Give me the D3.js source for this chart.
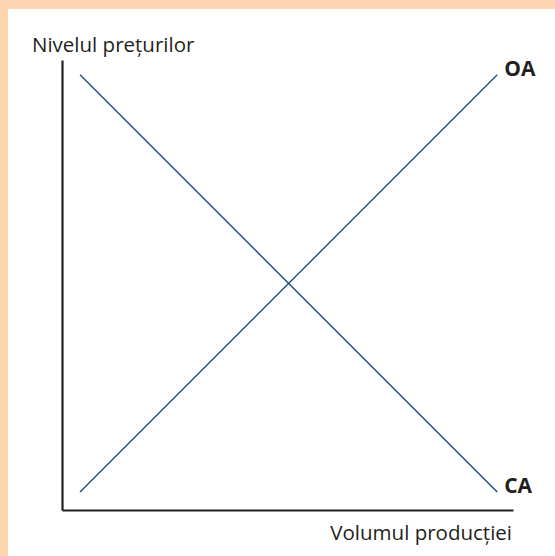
<!DOCTYPE html>
<html>
<head>
<meta charset="utf-8">
<script src="https://cdn.jsdelivr.net/npm/d3@7"></script>
<style>
  html, body { margin: 0; padding: 0; background: #fdd5b0; }
  #graph { width: 555px; height: 556px; }
  text { font-family: "Open Sans", "Noto Sans", sans-serif; fill: #231f20; }
</style>
</head>
<body>
<div id="graph"></div>
<script>
/* Curbele cererii si ofertei agregate */
const seriesNames = ["CA", "OA"];
const caX = [4, 96.5];
const caY = [96.7, 4];
const oaX = [4, 96.5];
const oaY = [4, 96.7];
const yTitle = "Nivelul prețurilor";
const xTitle = "Volumul producției";

window.addEventListener("DOMContentLoaded", main)

function main() {
    const W = 555, H = 556;
    const lineColor = "#1d4b86";

    const svg = d3.select("#graph").append("svg").attr("width", W).attr("height", H)

    // white panel inside the peach frame
    svg.append("rect")
        .attr("x", 8).attr("y", 9)
        .attr("width", W - 8).attr("height", H - 9)
        .attr("fill", "#ffffff");

    const xScale = d3.scaleLinear().domain([0, 100]).range([62, 513]);
    const yScale = d3.scaleLinear().domain([0, 100]).range([510, 60]);

    /* Axes, no ticks */
    svg.append("g")
        .attr("transform", "translate(0," + yScale(0) + ")")
        .call(d3.axisBottom(xScale).tickValues([]).tickSizeOuter(0))
        .select(".domain").attr("stroke", "#231f20").attr("stroke-width", 2.2);

    svg.append("g")
        .attr("transform", "translate(" + xScale(0) + ",0)")
        .call(d3.axisLeft(yScale).tickValues([]).tickSizeOuter(0))
        .select(".domain").attr("stroke", "#231f20").attr("stroke-width", 2.2);

    /* Curves */
    const data = [
        { name: seriesNames[0], pts: caX.map((x, i) => [x, caY[i]]) },
        { name: seriesNames[1], pts: oaX.map((x, i) => [x, oaY[i]]) }
    ];
    const line = d3.line().x(d => xScale(d[0])).y(d => yScale(d[1]));

    svg.selectAll(".curve")
        .data(data)
        .enter()
        .append("path")
        .attr("class", "curve")
        .attr("d", d => line(d.pts))
        .attr("fill", "none")
        .attr("stroke", lineColor)
        .attr("stroke-width", 1.4);

    /* Curve labels at the right end */
    svg.selectAll(".curve-label")
        .data(data)
        .enter()
        .append("text")
        .attr("class", "curve-label")
        .attr("x", d => xScale(d.pts[1][0]) + 7)
        .attr("y", d => yScale(d.pts[1][1]) + 1)
        .style("font-size", "21px")
        .style("font-weight", "bold")
        .text(d => d.name);

    /* Axis titles */
    svg.append("text")
        .attr("x", 32).attr("y", 52)
        .style("font-size", "20.5px")
        .text(yTitle);

    svg.append("text")
        .attr("x", 512).attr("y", 540)
        .style("text-anchor", "end")
        .style("font-size", "20.5px")
        .text(xTitle);
}
</script>
</body>
</html>
